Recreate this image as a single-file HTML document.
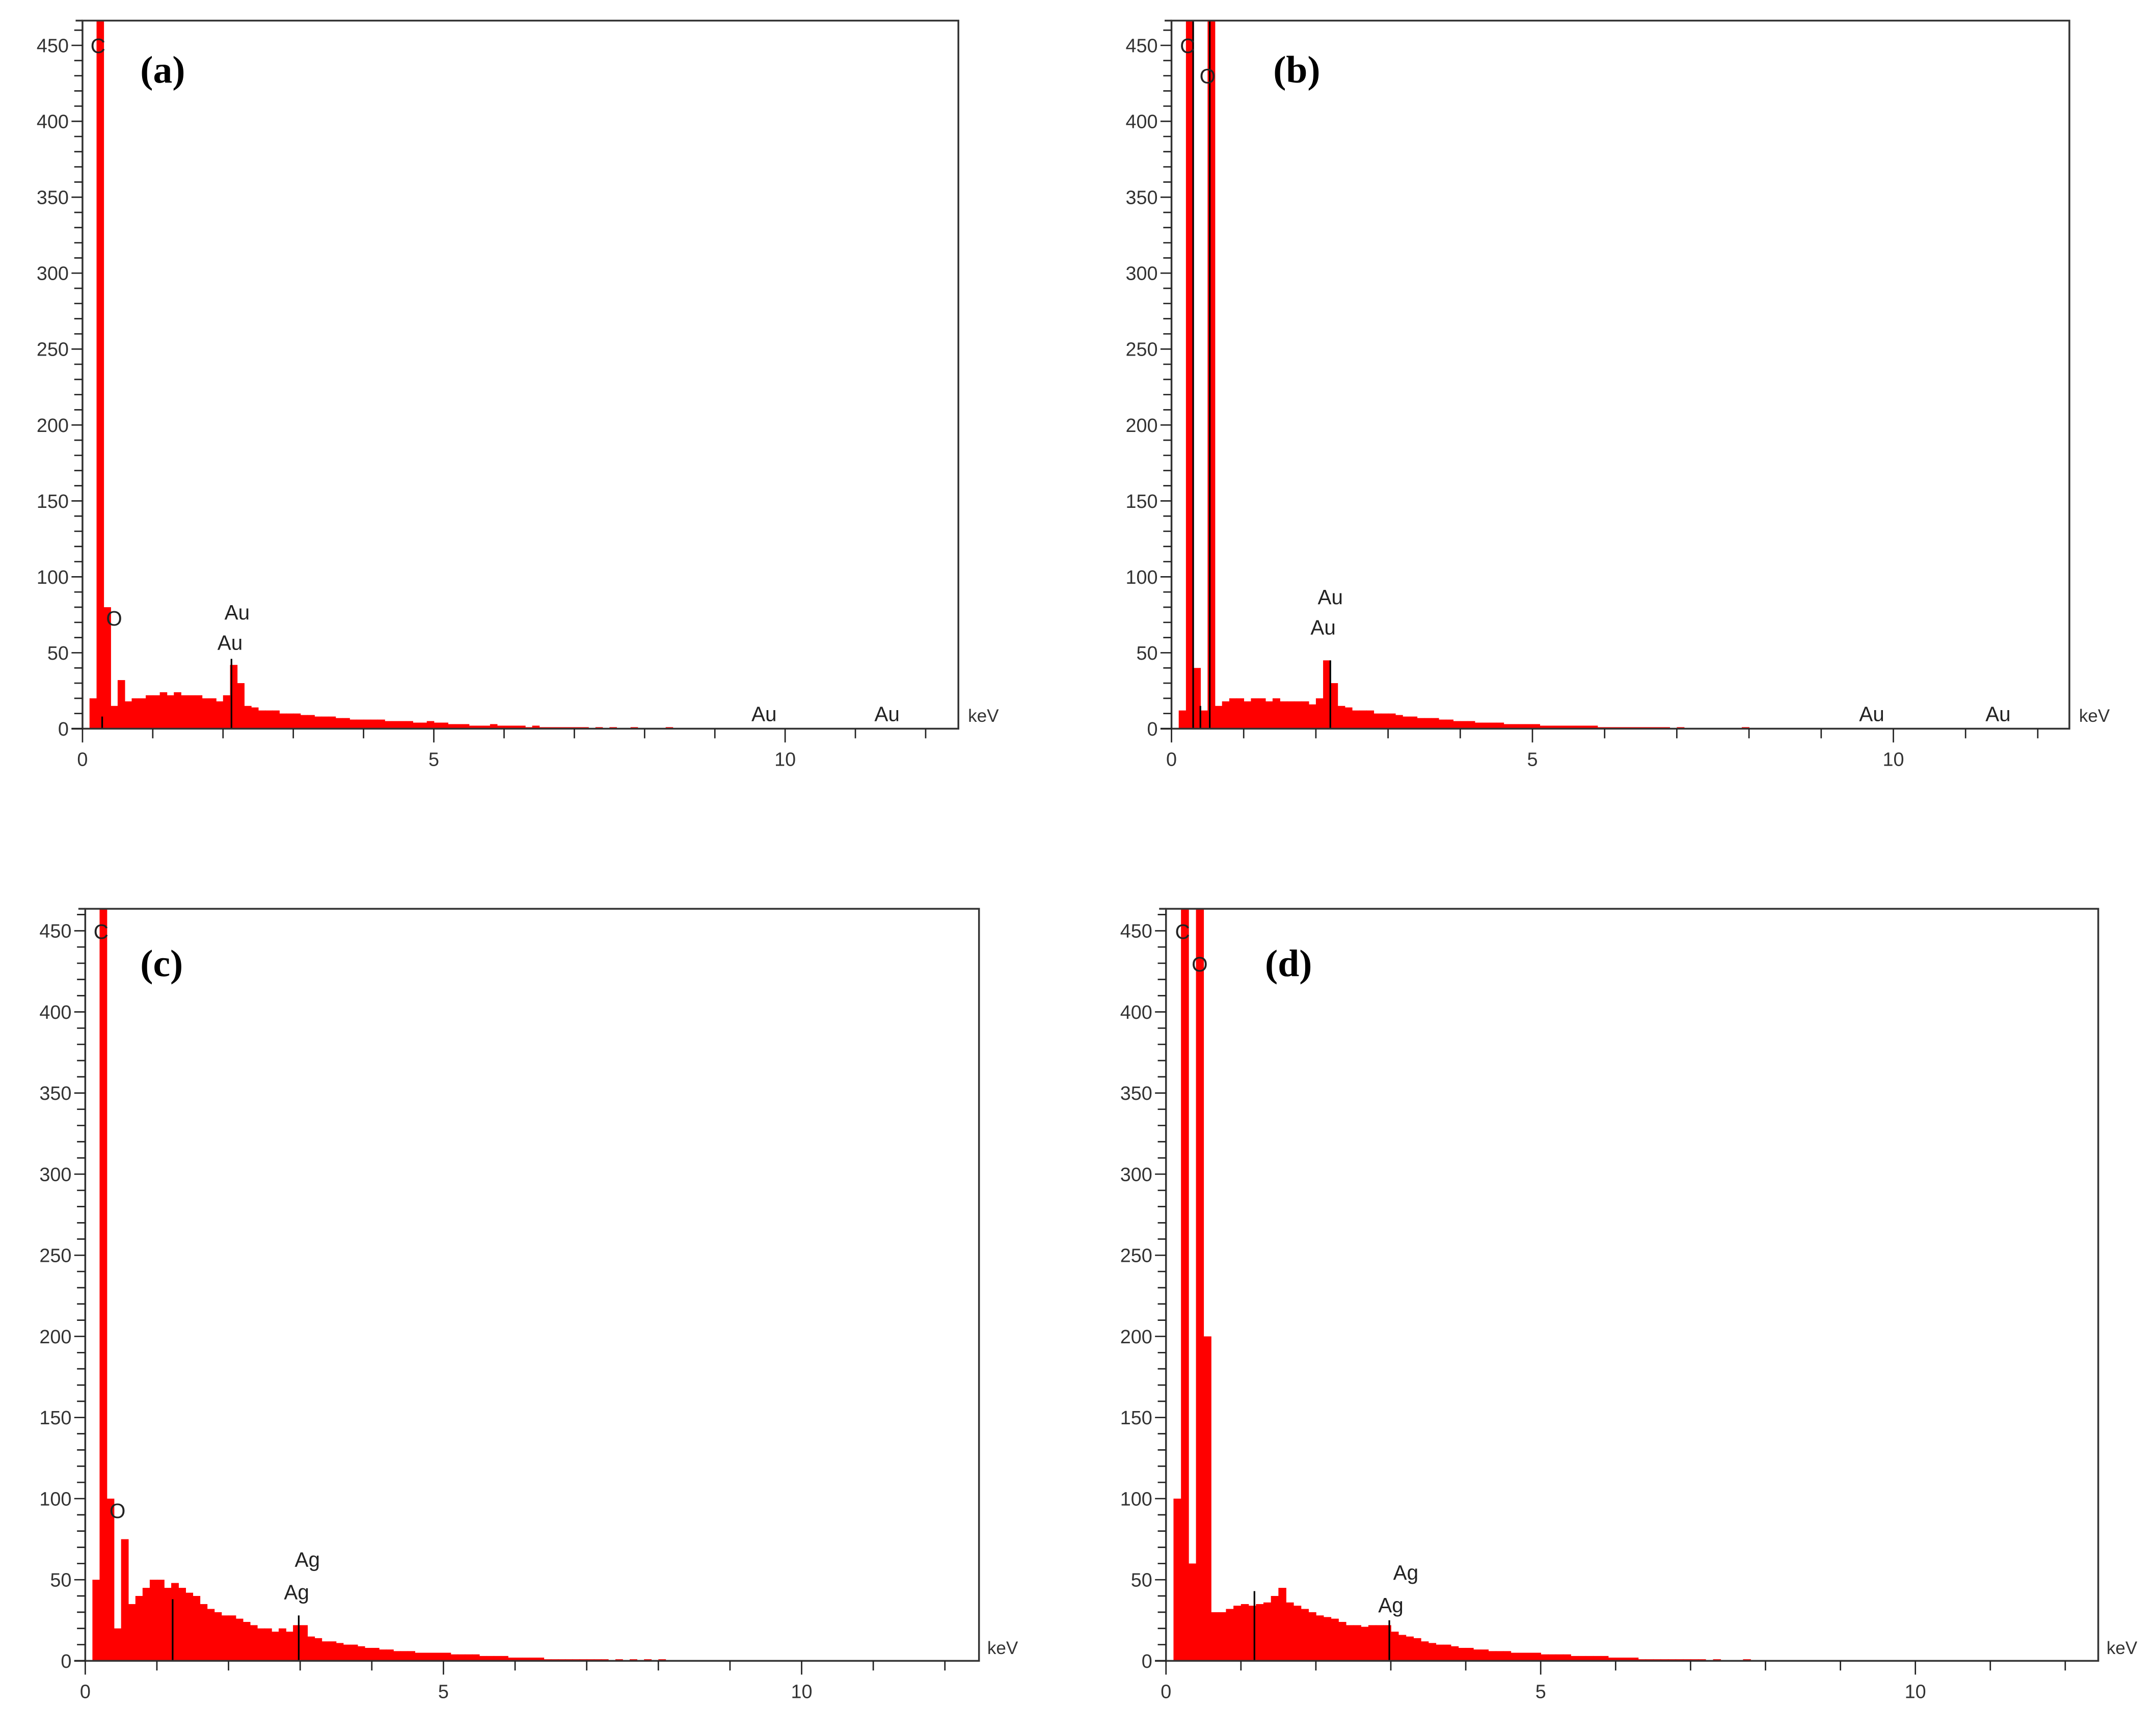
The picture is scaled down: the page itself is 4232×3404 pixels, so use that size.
<!DOCTYPE html>
<html><head><meta charset="utf-8"><style>
html,body{margin:0;padding:0;background:#fff}
svg{display:block}
</style></head><body>
<svg id="fig" width="4232" height="3404" viewBox="0 0 1568 1261.2" preserveAspectRatio="none" xmlns="http://www.w3.org/2000/svg"></svg>
<script>
// counts per 0.1 keV bin starting at 0.0 keV
const countsA=[0,20,470,80,15,32,18,20,20,22,22,24,22,24,22,22,22,20,20,18,22,42,30,15,14,12,12,12,10,10,10,9,9,8,8,8,7,7,6,6,6,6,6,5,5,5,5,4,4,5,4,4,3,3,3,2,2,2,3,2,2,2,2,1,2,1,1,1,1,1,1,1,0,1,0,1,0,0,1,0,0,0,0,1];
const countsB=[0,12,470,40,12,470,15,18,20,20,18,20,20,18,20,18,18,18,18,16,20,45,30,15,14,12,12,12,10,10,10,9,8,8,7,7,7,6,6,5,5,5,4,4,4,4,3,3,3,3,3,2,2,2,2,2,2,2,2,1,1,1,1,1,1,1,1,1,1,0,1,0,0,0,0,0,0,0,0,1];
const countsC=[0,50,470,100,20,75,35,40,45,50,50,45,48,45,42,40,35,32,30,28,28,26,24,22,20,20,18,20,18,22,22,15,14,12,12,11,10,10,9,8,8,7,7,6,6,6,5,5,5,5,5,4,4,4,4,3,3,3,3,2,2,2,2,2,1,1,1,1,1,1,1,1,1,0,1,0,1,0,1,0,1];
const countsD=[0,100,470,60,470,200,30,30,32,34,35,34,35,36,40,45,36,34,32,30,28,27,26,24,22,22,21,22,22,22,18,16,15,14,12,11,10,10,9,8,8,7,7,6,6,6,5,5,5,5,4,4,4,4,3,3,3,3,3,2,2,2,2,1,1,1,1,1,1,1,1,1,0,1,0,0,0,1];
const markersA=[[0.28,8],[2.12,46]];
const markersB=[[0.3,470],[0.4,15],[0.53,470],[2.2,45]];
const markersC=[[1.22,38],[2.98,28]];
const markersD=[[1.18,43],[2.98,25]];
const labelsA=[["C",0.22,445],["O",0.45,68],["Au",2.2,72],["Au",2.1,52],["Au",9.7,5],["Au",11.45,5]];
const labelsB=[["C",0.22,445],["O",0.5,425],["Au",2.2,82],["Au",2.1,62],["Au",9.7,5],["Au",11.45,5]];
const labelsC=[["C",0.22,445],["O",0.45,88],["Ag",3.1,58],["Ag",2.95,38]];
const labelsD=[["C",0.22,445],["O",0.45,425],["Ag",3.2,50],["Ag",3.0,30]];
const yTicks=[0,50,100,150,200,250,300,350,400,450];
const xTicks=[0,5,10];

const svg=document.getElementById('fig');
const NS='http://www.w3.org/2000/svg';
function mk(tag,attrs,parent){const e=document.createElementNS(NS,tag);for(const k in attrs)e.setAttribute(k,attrs[k]);parent.appendChild(e);return e;}
const SANS='"Liberation Sans",sans-serif';

const panels=[
 {id:'a',L:60,R:697,T:15,B:530,x0:60,x10:571,y450:33,counts:countsA,markers:markersA,labels:labelsA,lx:102,ly:60,kx:704,ky:525},
 {id:'b',L:852,R:1505,T:15,B:530,x0:852,x10:1377,y450:33,counts:countsB,markers:markersB,labels:labelsB,lx:926,ly:60,kx:1512,ky:525},
 {id:'c',L:62,R:712,T:661,B:1208,x0:62,x10:583,y450:677,counts:countsC,markers:markersC,labels:labelsC,lx:102,ly:710,kx:718,ky:1203},
 {id:'d',L:848,R:1526,T:661,B:1208,x0:848,x10:1393,y450:677,counts:countsD,markers:markersD,labels:labelsD,lx:920,ly:710,kx:1532,ky:1203}
];
panels.forEach(p=>{
 const g=mk('g',{},svg);
 
 
 const xs=k=>p.x0+(p.x10-p.x0)*k/10;
 const ys=v=>p.B-(p.B-p.y450)*Math.min(v,1000)/450;
 const clipId='clip'+p.id;
 const cp=mk('clipPath',{id:clipId},g);mk('rect',{x:p.L,y:p.T,width:p.R-p.L,height:p.B-p.T},cp);
 const bars=mk('g',{'clip-path':'url(#'+clipId+')'},g);
 
 
 const bw=(p.x10-p.x0)/100;
 p.counts.forEach((c,i)=>{
  if(c<=0)return;
  const r=mk('rect',{x:xs(i*0.1),y:ys(c),width:bw+0.3,height:p.B-ys(c),fill:'#ff0000'},bars);
  
  
 });
 p.markers.forEach(m=>{
  const l=mk('line',{x1:xs(m[0]),x2:xs(m[0]),y1:p.B,y2:Math.max(ys(m[1]),p.T),stroke:'#000','stroke-width':1.2},g);
  
  
 });
 const f=mk('rect',{x:p.L,y:p.T,width:p.R-p.L,height:p.B-p.T,fill:'none',stroke:'#333','stroke-width':1.3},g);
 
 
 mk('line',{x1:p.L-5,x2:p.L,y1:p.T,y2:p.T,stroke:'#333','stroke-width':1.3},g);
 for(let v=0;v<=460;v+=10){
  const major=v%50===0;
  mk('line',{x1:p.L-(major?8:6),x2:p.L,y1:ys(v),y2:ys(v),stroke:'#222','stroke-width':1},g);
 }
 yTicks.forEach(v=>{
  const t=mk('text',{x:p.L-10,y:ys(v)+5,'font-size':14,'text-anchor':'end',fill:'#333','font-family':SANS},g);
  t.textContent=v;
  
  
 });
 for(let k=0;k<=12;k++){
  mk('line',{x1:xs(k),x2:xs(k),y1:p.B,y2:p.B+(k%5===0?10:7),stroke:'#222','stroke-width':1},g);
 }
 mk('line',{x1:p.L-8,x2:p.L,y1:p.B,y2:p.B,stroke:'#222','stroke-width':1.3},g);
 xTicks.forEach(k=>{
  const t=mk('text',{x:xs(k),y:p.B+27,'font-size':14,'text-anchor':'middle',fill:'#333','font-family':SANS},g);
  t.textContent=k;
  
  
 });
 const ku=mk('text',{x:p.kx,y:p.ky,'font-size':13,fill:'#333','font-family':SANS},g);
 ku.textContent='keV';
 
 
 p.labels.forEach(l=>{
  const t=mk('text',{x:xs(l[1]),y:ys(l[2]),'font-size':15,'text-anchor':'middle',fill:'#222','font-family':SANS},g);
  t.textContent=l[0];
  
  
 });
 const pl=mk('text',{x:p.lx,y:p.ly,'font-size':28,'font-weight':'bold',fill:'#000','font-family':'"Liberation Serif",serif'},g);
 pl.textContent='('+p.id+')';
 
 
});
</script>
</body></html>
